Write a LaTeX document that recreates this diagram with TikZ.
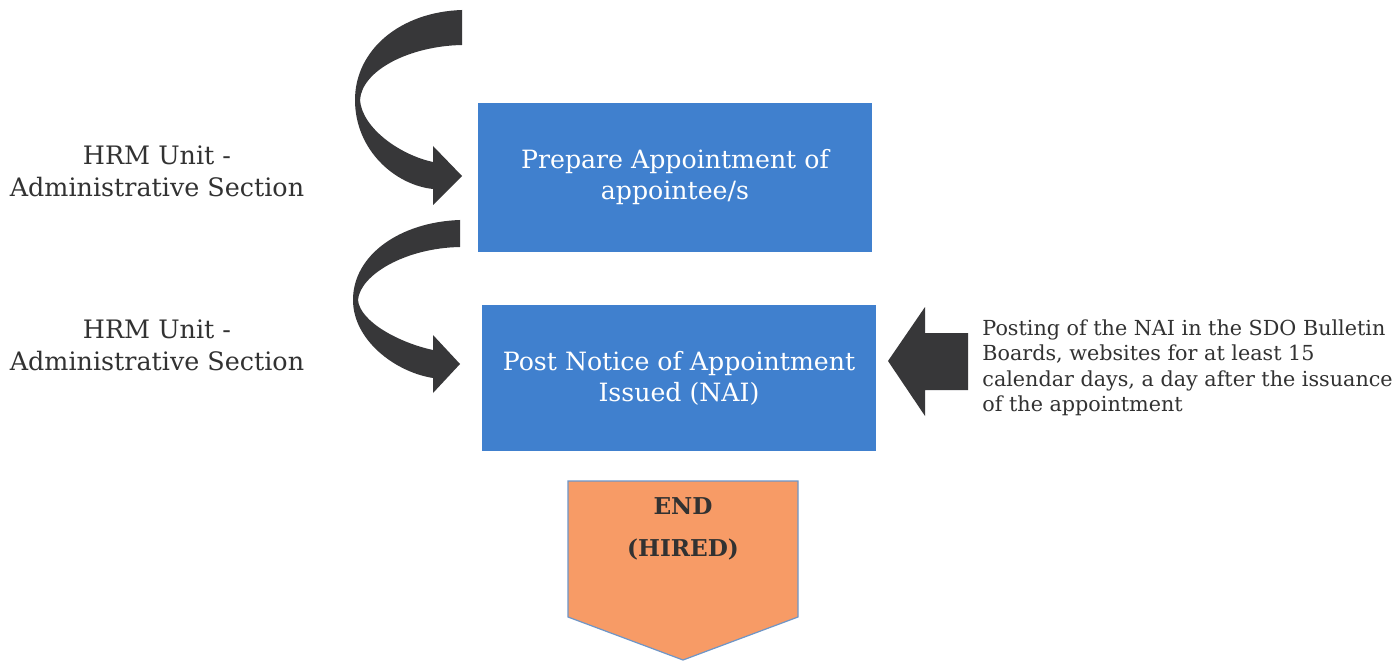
\documentclass[tikz,border=0pt]{standalone}
\usepackage{fontspec}
\setmainfont{DejaVu Serif}
\definecolor{boxblue}{RGB}{64,128,206}
\definecolor{arrowgray}{RGB}{55,55,57}
\definecolor{endorange}{RGB}{247,155,102}
\definecolor{endedge}{RGB}{110,150,200}
\definecolor{txtgray}{RGB}{50,50,50}
\begin{document}
\begin{tikzpicture}[x=0.5pt,y=-0.5pt,
  stepbox/.style={fill=boxblue,draw=none,minimum width=197pt,minimum height=74.5pt,
    text=white,align=center,font=\fontsize{12.6}{15.5}\selectfont,inner sep=0pt},
  sidelabel/.style={align=center,text=txtgray,font=\fontsize{12.7}{16}\selectfont,inner sep=0pt},
  notelabel/.style={align=left,text=txtgray,font=\fontsize{10.35}{12.8}\selectfont,inner sep=0pt,anchor=north west},
  blockarrow/.style={fill=arrowgray,draw=none}]
\useasboundingbox (0,0) rectangle (1400,662);
\fill[white] (0,0) rectangle (1400,662);

% boxes
\node[stepbox] (prep) at (675,177.5) {Prepare Appointment of\\appointee/s};
\node[stepbox,minimum height=73pt] (post) at (679,378) {Post Notice of Appointment\\Issued (NAI)};

% end pentagon
\fill[endorange,draw=endedge,line width=0.6pt] (568,481) -- (798,481) -- (798,617) -- (683,660) -- (568,617) -- cycle;
\node[align=center,text=txtgray,font=\bfseries\fontsize{11.6}{21}\selectfont,inner sep=0pt] (endnode) at (683,529) {END\\(HIRED)};

% side labels
\node[sidelabel] (lab1) at (157,171) {HRM Unit -\\Administrative Section};
\node[sidelabel] (lab2) at (157,345) {HRM Unit -\\Administrative Section};
\node[notelabel] (note) at (982,319) {Posting of the NAI in the SDO Bulletin\\Boards, websites for at least 15\\calendar days, a day after the issuance\\of the appointment};

% curved arrow 1
\fill[blockarrow] (462,10) .. controls (400,12) and (355,50) .. (355,100)
  .. controls (355,150) and (395,185) .. (433,189)
  -- (433,205) -- (462,176) -- (433,146) -- (433,162)
  .. controls (400,155) and (362,128) .. (360,100)
  .. controls (362,70) and (410,46) .. (462,45) -- cycle;

% curved arrow 2
\fill[blockarrow] (460,220) .. controls (400,222) and (353,255) .. (353,300)
  .. controls (353,340) and (395,372) .. (433,378)
  -- (433,393) -- (460,364) -- (433,335) -- (433,350)
  .. controls (400,343) and (360,322) .. (358,300)
  .. controls (360,275) and (405,248) .. (460,247) -- cycle;

% right arrow
\fill[blockarrow] (888,361) -- (925,307) -- (925,333) -- (968,333) -- (968,390) -- (925,390) -- (925,416) -- cycle;
\end{tikzpicture}
\end{document}
